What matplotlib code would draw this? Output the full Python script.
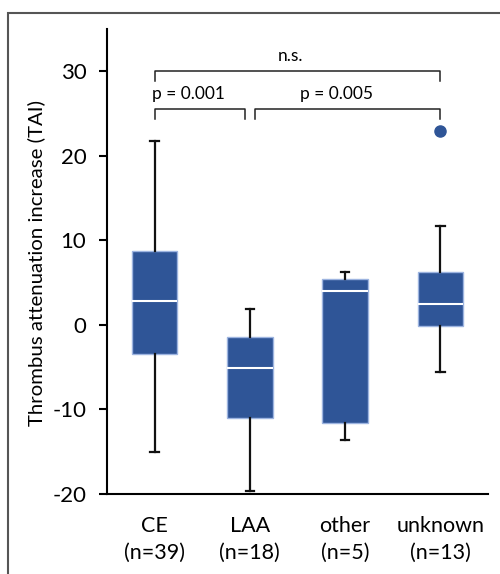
import numpy as np
import matplotlib.pyplot as plt
from matplotlib.patches import Rectangle

plt.rcParams['font.family'] = ['Lato', 'DejaVu Sans']
plt.rcParams['axes.unicode_minus'] = False

# values
groups = ["CE", "LAA", "other", "unknown"]
counts = [39, 18, 5, 13]
whisk_lo = [-15.1, -19.7, -13.6, -5.6]
q1 = [-3.5, -11.1, -11.6, -0.1]
med = [2.8, -5.1, 4.0, 2.5]
q3 = [8.7, -1.5, 5.4, 6.2]
whisk_hi = [21.7, 1.9, 6.2, 11.7]
fliers = [[], [], [], [22.9]]

stats = []
for i in range(len(groups)):
    stats.append(dict(med=med[i], q1=q1[i], q3=q3[i],
                      whislo=whisk_lo[i], whishi=whisk_hi[i],
                      fliers=fliers[i], label=f"{groups[i]}\n(n={counts[i]})"))

fig = plt.figure(figsize=(5, 5.74), dpi=100)
ax = fig.add_axes([0.214, 0.140, 0.762, 0.8095])

blue = "#2F5597"
ax.bxp(stats, positions=[1, 2, 3, 4], widths=0.48, patch_artist=True,
       boxprops=dict(facecolor=blue, edgecolor="#9DB4E0", linewidth=1),
       medianprops=dict(color="white", linewidth=1.5),
       whiskerprops=dict(color="#111111", linewidth=1.6),
       capprops=dict(color="#111111", linewidth=1.6),
       capwidths=0.09,
       flierprops=dict(marker="o", markerfacecolor=blue, markeredgecolor=blue, markersize=8))

ax.set_xlim(0.5, 4.5)
ax.set_ylim(-20, 35)
ax.set_yticks([-20, -10, 0, 10, 20, 30])
ax.spines["top"].set_visible(False)
ax.spines["right"].set_visible(False)
ax.spines["left"].set_linewidth(1.5)
ax.spines["bottom"].set_linewidth(1.5)
ax.tick_params(axis="y", labelsize=16, length=5.8, width=1.5, pad=9)
ax.tick_params(axis="x", labelsize=15.5, length=0, pad=16)
for lbl in ax.get_xticklabels():
    lbl.set_linespacing(1.45)
ax.set_ylabel("Thrombus attenuation increase (TAI)", fontsize=14.7)
ax.yaxis.set_label_coords(-0.163, 0.496)

# significance brackets
def bracket(x0, x1, y, h, text, tx):
    ax.plot([x0, x0, x1, x1], [y - h, y, y, y - h], color="#222222", lw=1.1, clip_on=False)
    ax.text(tx, y + 0.9, text, ha="center", va="bottom", fontsize=12.5)

bracket(1, 4, 30, 1.1, "n.s.", 2.43)
bracket(1, 1.95, 25.5, 1.1, "p = 0.001", 1.36)
bracket(2.05, 4, 25.5, 1.1, "p = 0.005", 2.91)

# outer frame
fig.patches.append(Rectangle((8 / 500, -0.1), 1.2, 1.1 - 13 / 574, transform=fig.transFigure,
                             fill=False, edgecolor="#555555", linewidth=1.5))

fig.savefig("out.png", dpi=100)
